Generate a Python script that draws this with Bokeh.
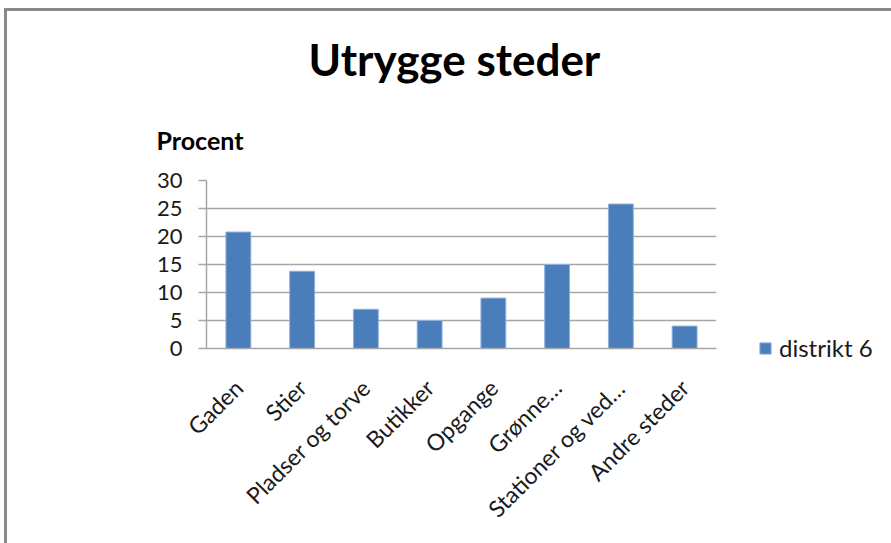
from math import pi
from bokeh.plotting import figure
from bokeh.models import FixedTicker, Title, Legend, LegendItem, ColumnDataSource, Range1d
from bokeh.embed import file_html
from bokeh.resources import INLINE

# ---- data ----
categories = ["Gaden", "Stier", "Pladser og torve", "Butikker", "Opgange",
              "Grønne…", "Stationer og ved…", "Andre steder"]
values = [20.8, 13.8, 7, 5, 9, 15, 25.8, 4]
series_name = "distrikt 6"
y_ticks = [0, 5, 10, 15, 20, 25, 30]
title_text = "Utrygge steder"
y_title = "Procent"

FONT = "Lato"
BAR = "#4A7EBB"
BAR_EDGE = "#8FB0DA"
GRID = "#A6A6A6"
TXT = "#1a1a1a"

src = ColumnDataSource(dict(cat=categories, val=values))

p = figure(frame_width=510, frame_height=168, x_range=categories, y_range=Range1d(0, 30),
           output_backend="svg", toolbar_location=None,
           min_border_left=199, min_border_right=175,
           min_border_top=169, min_border_bottom=195,
           background_fill_color="white", border_fill_color="white",
           styles={"margin-left": "4px", "margin-top": "8px",
                   "border-top": "3px solid #8a8a8a",
                   "border-left": "3px solid #8a8a8a"})
p.outline_line_color = None

r = p.vbar(x="cat", top="val", width=0.39, source=src,
           fill_color=BAR, line_color=BAR_EDGE, line_width=1)

# axes
p.xaxis.major_tick_line_color = None
p.xaxis.minor_tick_line_color = None
p.xaxis.axis_line_color = GRID
p.xaxis.axis_line_width = 1.5
p.xaxis.major_label_orientation = pi / 4
p.xaxis.major_label_text_font = FONT
p.xaxis.major_label_text_font_size = "23px"
p.xaxis.major_label_text_color = TXT
p.xaxis.major_label_standoff = 29

p.yaxis.ticker = FixedTicker(ticks=y_ticks)
p.yaxis.major_tick_out = 8
p.yaxis.major_tick_in = 0
p.yaxis.major_tick_line_color = GRID
p.yaxis.major_tick_line_width = 1.5
p.yaxis.minor_tick_line_color = None
p.yaxis.axis_line_color = GRID
p.yaxis.axis_line_width = 1.5
p.yaxis.major_label_text_font = FONT
p.yaxis.major_label_text_font_size = "22px"
p.yaxis.major_label_text_color = TXT
p.yaxis.major_label_standoff = 16

p.xgrid.grid_line_color = None
p.ygrid.ticker = FixedTicker(ticks=y_ticks)
p.ygrid.grid_line_color = GRID
p.ygrid.grid_line_width = 1.5

# axis title and chart title in the panel above the frame
p.add_layout(Title(text=y_title, text_font=FONT, text_font_style="bold",
                   text_font_size="25px", text_color="#000000",
                   align="left", offset=-50, standoff=52), "above")
p.add_layout(Title(text=title_text, text_font=FONT, text_font_style="bold",
                   text_font_size="44px", text_color="#000000",
                   align="left", offset=102, standoff=24), "above")

legend = Legend(items=[LegendItem(label=series_name, renderers=[r])],
                location=(42, -14), glyph_width=14, glyph_height=14,
                label_height=14,
                label_text_font=FONT, label_text_font_size="24px",
                label_text_color=TXT, padding=0, margin=0, spacing=0,
                label_standoff=7, border_line_color=None, background_fill_alpha=0)
p.add_layout(legend, "right")

open("out.html", "w").write(file_html(p, INLINE))
